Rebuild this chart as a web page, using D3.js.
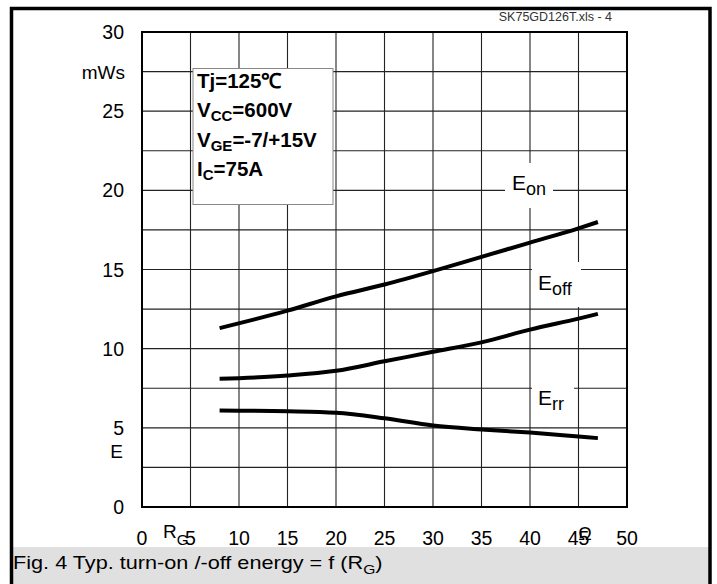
<html>
<head>
<script src="https://d3js.org/d3.v7.min.js"></script>
<style>
  body { margin: 0; background: #fff; }
  svg { display: block; font-family: "Liberation Sans", Arial, sans-serif; }
</style>
</head>
<body>
<svg width="717" height="584"></svg>
<script>
  // gate resistance R_G (Ohm) and energies (mWs)
  var rg   = [8, 15, 20, 25, 30, 35, 40, 45, 47];
  var eOn  = [11.3, 12.4, 13.3, 14.05, 14.9, 15.8, 16.7, 17.6, 18.0];
  var eOff = [8.1, 8.3, 8.6, 9.2, 9.8, 10.4, 11.2, 11.9, 12.2];
  var eRr  = [6.1, 6.05, 5.95, 5.6, 5.15, 4.9, 4.7, 4.45, 4.35];

  var xTicks = [0, 5, 10, 15, 20, 25, 30, 35, 40, 45, 50];
  var yTicks = [0, 5, 10, 15, 20, 25, 30];
  var yGrid  = d3.range(0, 30.01, 2.5);

  var svg = d3.select("svg");
  var width = +svg.attr("width"), height = +svg.attr("height");

  var x = d3.scaleLinear().domain([0, 50]).range([142, 627]);
  var y = d3.scaleLinear().domain([0, 30]).range([507, 32]);

  svg.append("rect").attr("width", width).attr("height", height).attr("fill", "#fff");

  // caption band + outer frame
  svg.append("rect").attr("x", 11).attr("y", 547).attr("width", 699).attr("height", 40).attr("fill", "#e0e0e0");
  svg.append("path")
    .attr("d", "M11.5,590 V8.5 H710 V590")
    .attr("fill", "none").attr("stroke", "#000").attr("stroke-width", 3.5);

  svg.append("text").attr("x", 612).attr("y", 21).attr("text-anchor", "end")
    .attr("font-size", 12.5).attr("fill", "#333").text("SK75GD126T.xls - 4");

  // grid
  var grid = svg.append("g").attr("stroke", "#222").attr("stroke-width", 1.1);
  grid.selectAll(".vx").data(xTicks).enter().append("line")
    .attr("x1", d => x(d)).attr("x2", d => x(d)).attr("y1", y(0)).attr("y2", y(30));
  grid.selectAll(".hy").data(yGrid).enter().append("line")
    .attr("x1", x(0)).attr("x2", x(50)).attr("y1", d => y(d)).attr("y2", d => y(d));

  svg.append("rect").attr("x", x(0)).attr("y", y(30))
    .attr("width", x(50) - x(0)).attr("height", y(0) - y(30))
    .attr("fill", "none").attr("stroke", "#000").attr("stroke-width", 2);

  // white gaps behind curve labels
  var gaps = [[505, 163, 48, 45], [532, 262, 49, 45], [532, 383, 42, 30]];
  svg.selectAll(".gap").data(gaps).enter().append("rect")
    .attr("x", d => d[0]).attr("y", d => d[1]).attr("width", d => d[2]).attr("height", d => d[3])
    .attr("fill", "#fff");

  // condition box
  svg.append("rect").attr("x", 193).attr("y", 68.5).attr("width", 140).attr("height", 136)
    .attr("fill", "#fff").attr("stroke", "#888").attr("stroke-width", 1);
  var cond = [["Tj=125\u2103", "", ""], ["V", "CC", "=600V"], ["V", "GE", "=-7/+15V"], ["I", "C", "=75A"]];
  var box = svg.append("g").attr("font-weight", "bold").attr("font-size", 20.5);
  cond.forEach(function (c, i) {
    var t = box.append("text").attr("x", 197).attr("y", 88 + i * 29.3);
    t.append("tspan").text(c[0]);
    if (c[1]) {
      t.append("tspan").attr("font-size", 15).attr("dy", 4).text(c[1]);
      t.append("tspan").attr("dy", -4).text(c[2]);
    }
  });

  // curves
  var line = d3.line().x(d => x(d[0])).y(d => y(d[1])).curve(d3.curveMonotoneX);
  [eOn, eOff, eRr].forEach(function (s) {
    svg.append("path").datum(rg.map((r, i) => [r, s[i]]))
      .attr("d", line).attr("fill", "none").attr("stroke", "#000")
      .attr("stroke-width", 4);
  });

  // curve labels
  var labels = [["E", "on", 512, 190], ["E", "off", 538, 290], ["E", "rr", 538, 405]];
  labels.forEach(function (l) {
    var t = svg.append("text").attr("x", l[2]).attr("y", l[3]).attr("font-size", 21);
    t.append("tspan").text(l[0]);
    t.append("tspan").attr("font-size", 18).attr("dy", 5).text(l[1]);
  });

  // axis tick labels
  svg.selectAll(".yl").data(yTicks).enter().append("text")
    .attr("x", 124).attr("y", d => y(d) + 7).attr("text-anchor", "end")
    .attr("font-size", 19.5).text(d => d);
  svg.append("text").attr("x", 125).attr("y", y(27.5) + 7).attr("text-anchor", "end")
    .attr("font-size", 19).text("mWs");
  svg.append("text").attr("x", 123).attr("y", y(3.55) + 7).attr("text-anchor", "end")
    .attr("font-size", 19).text("E");

  svg.selectAll(".xl").data(xTicks).enter().append("text")
    .attr("x", d => x(d)).attr("y", 545).attr("text-anchor", "middle")
    .attr("font-size", 19.5).text(d => d);

  var rgl = svg.append("text").attr("x", 163).attr("y", 538).attr("font-size", 19);
  rgl.append("tspan").text("R");
  rgl.append("tspan").attr("font-size", 15).attr("dy", 7).text("G");
  svg.append("text").attr("x", 585).attr("y", 540).attr("text-anchor", "middle")
    .attr("font-size", 18).text("\u03A9");

  // caption, stretched to the width it has in the reference
  var cap = svg.append("text").attr("font-size", 18);
  cap.append("tspan").text("Fig. 4 Typ. turn-on /-off energy = f (R");
  cap.append("tspan").attr("font-size", 13).attr("dy", 5).text("G");
  cap.append("tspan").attr("dy", -5).text(")");
  var cw = cap.node().getBBox().width;
  cap.attr("transform", "translate(13,569) scale(" + (370 / cw) + ",1)");
</script>
</body>
</html>
